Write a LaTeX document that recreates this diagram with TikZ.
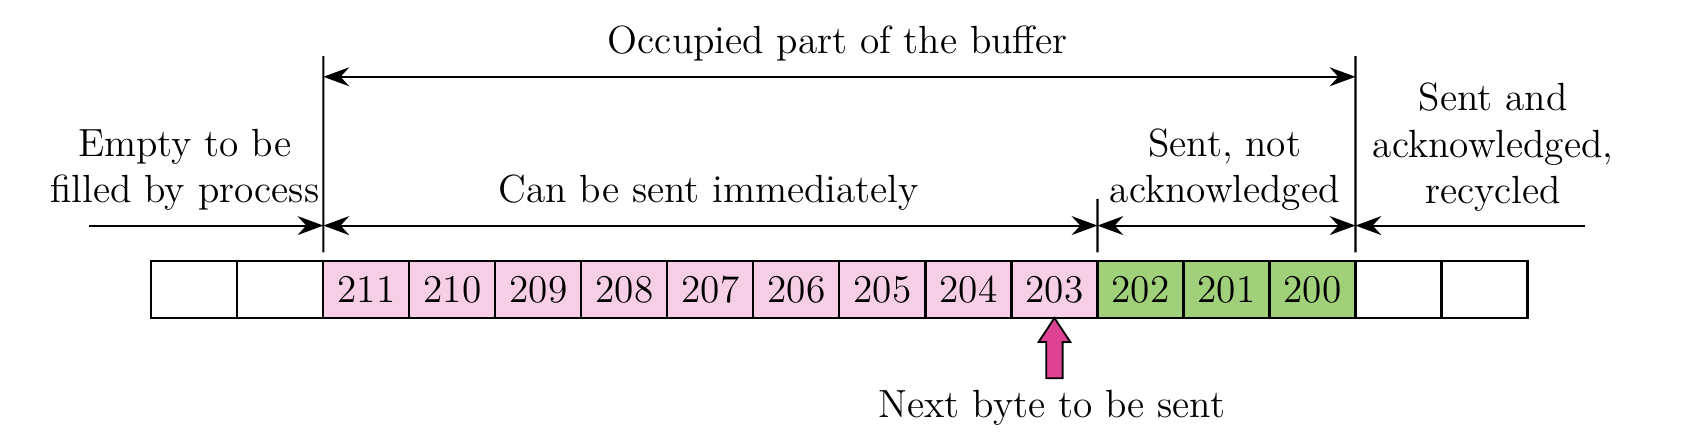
\documentclass[tikz,border=0pt]{standalone}
\usepackage{tikz}
\usetikzlibrary{shapes,arrows.meta,positioning}
\definecolor{unsentpink}{RGB}{246,206,229}
\definecolor{ackgreen}{RGB}{160,208,122}
\definecolor{pointermagenta}{RGB}{222,66,146}

\tikzset{
  cell/.style={draw,line width=0.7pt,minimum width=1cm,minimum height=0.663cm,inner sep=0pt,outer sep=0pt},
  span/.style={line width=0.7pt,{Stealth[length=3mm,width=2.2mm,inset=1mm]}-{Stealth[length=3mm,width=2.2mm,inset=1mm]}},
  into/.style={line width=0.7pt,-{Stealth[length=3mm,width=2.2mm,inset=1mm]}},
  tick/.style={line width=0.7pt},
  lbl/.style={align=center,inner sep=0pt}
}

\begin{document}
\begin{tikzpicture}[font=\fontsize{13}{15.3}\selectfont]
\useasboundingbox (0,0) rectangle (19.58,5.163);

% the buffer
\node[cell] (c0) at (2.26,1.797) {};
\foreach \i/\num/\clr [remember=\i as \prev (initially 0)] in
  {1//white,2/211/unsentpink,3/210/unsentpink,4/209/unsentpink,5/208/unsentpink,
   6/207/unsentpink,7/206/unsentpink,8/205/unsentpink,9/204/unsentpink,10/203/unsentpink,
   11/202/ackgreen,12/201/ackgreen,13/200/ackgreen,14//white,15//white}
  \node[cell,fill=\clr,right=0pt of c\prev] (c\i) {\num};

% boundary ticks
\draw[tick] ([yshift=1mm]c2.north west) coordinate (lb) -- (3.76,4.51) coordinate (lt);
\draw[tick] ([yshift=1mm]c11.north west) coordinate (mb) -- (12.76,2.85) coordinate (mt);
\draw[tick] ([yshift=1mm]c14.north west) coordinate (rb) -- (15.76,4.51) coordinate (rt);

% upper span
\coordinate (ul) at (3.76,4.27);
\coordinate (ur) at (15.76,4.27);
\draw[span] (ul) -- (ur);
\node[lbl] (occupied) at (9.74,4.66) {Occupied part of the buffer};

% lower spans
\coordinate (ll) at (1.04,2.54);
\coordinate (l1) at (3.76,2.54);
\coordinate (l2) at (12.76,2.54);
\coordinate (l3) at (15.76,2.54);
\coordinate (lr) at (18.43,2.54);
\draw[into] (ll) -- (l1);
\draw[span] (l1) -- (l2);
\draw[span] (l2) -- (l3);
\draw[into] (lr) -- (l3);

\node[lbl] (empty) at (2.15,3.19) {Empty to be\\filled by process};
\node[lbl] (sendable) at (8.24,2.92) {Can be sent immediately};
\node[lbl] (unacked) at (14.24,3.19) {Sent, not\\acknowledged};
\node[lbl] (recycled) at (17.36,3.45) {Sent and\\acknowledged,\\recycled};

% next byte pointer
\draw[line width=0.6pt,fill=pointermagenta] (c10.south) -- ++(0.185,-0.28) -- ++(-0.09,0)
  -- ++(0,-0.42) -- ++(-0.19,0) -- ++(0,0.42) -- ++(-0.09,0) -- cycle;
\node[lbl] (nextbyte) at (12.23,0.42) {Next byte to be sent};
\end{tikzpicture}
\end{document}
